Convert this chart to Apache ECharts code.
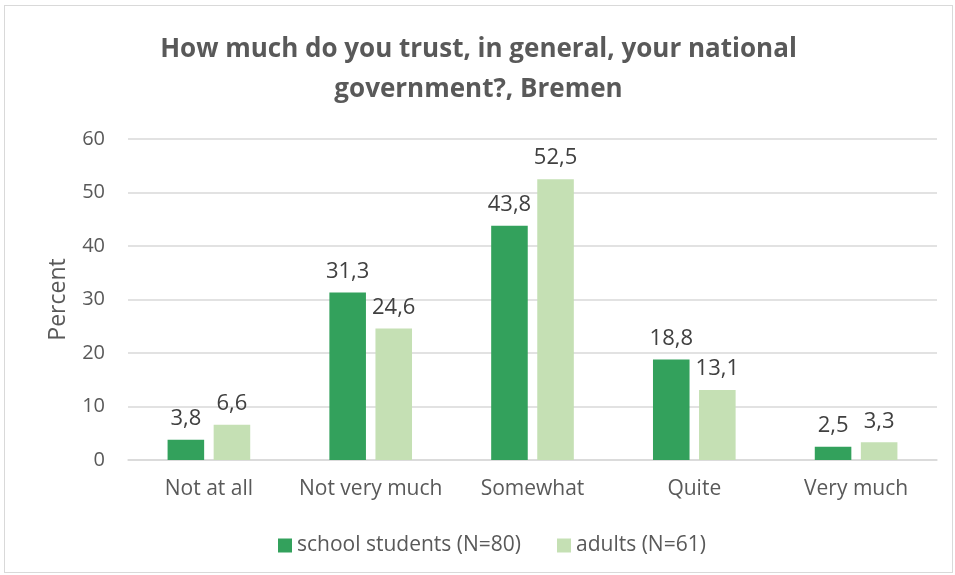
<!DOCTYPE html>
<html><head><meta charset="utf-8">
<script src="https://cdn.jsdelivr.net/npm/echarts@6/dist/echarts.min.js"></script>
<style>
html,body{margin:0;padding:0;background:#fff;}
#c{position:absolute;left:4px;top:5px;width:949px;height:568px;border:1px solid #d9d9d9;box-sizing:border-box;}
</style></head><body>
<div id="c"></div>
<script>
const categories = ["Not at all", "Not very much", "Somewhat", "Quite", "Very much"];
const students = [3.8, 31.3, 43.8, 18.8, 2.5];
const adults = [6.6, 24.6, 52.5, 13.1, 3.3];
const seriesNames = ["school students (N=80)", "adults (N=61)"];
const yTicks = [0, 10, 20, 30, 40, 50, 60];

const font = "Open Sans";
const chart = echarts.init(document.getElementById('c'));
const lbl = {show:true, position:'top', distance:10, color:'#404040', fontSize:22, fontFamily:font,
  formatter: p => String(p.value).replace('.', ',')};
chart.setOption({
  animation:false,
  title:{text:"How much do you trust, in general, your national\ngovernment?, Bremen", left:'center', top:19,
    textStyle:{fontSize:26, fontWeight:'bold', color:'#595959', fontFamily:font, lineHeight:40}},
  legend:{top:524, left:268, itemWidth:14, itemHeight:14, itemGap:36, itemTextGap:6, icon:'rect',
    textStyle:{fontSize:21, color:'#595959', fontFamily:font}},
  grid:{left:123, right:15, top:133, bottom:112},
  xAxis:{type:'category', data:categories,
    axisLine:{lineStyle:{color:'#d9d9d9', width:1.5}}, axisTick:{show:false},
    axisLabel:{interval:0, fontSize:21, color:'#595959', fontFamily:font, margin:19}},
  yAxis:{type:'value', min:yTicks[0], max:yTicks[yTicks.length-1], interval:10,
    name:'Percent', nameLocation:'middle', nameGap:58, nameRotate:90,
    nameTextStyle:{fontSize:23, color:'#595959', fontFamily:font},
    axisLine:{show:false}, axisTick:{show:false},
    axisLabel:{fontSize:20, color:'#595959', fontFamily:font, margin:23},
    splitLine:{lineStyle:{color:'#d9d9d9', width:1.5}}},
  series:[
    {name:seriesNames[0], type:'bar', data:students, barWidth:'22.6%', barGap:'26%',
      itemStyle:{color:'#33a15c'}, label:lbl},
    {name:seriesNames[1], type:'bar', data:adults, barWidth:'22.6%', barGap:'26%',
      itemStyle:{color:'#c5e0b4'}, label:lbl}
  ]
});
</script></body></html>
